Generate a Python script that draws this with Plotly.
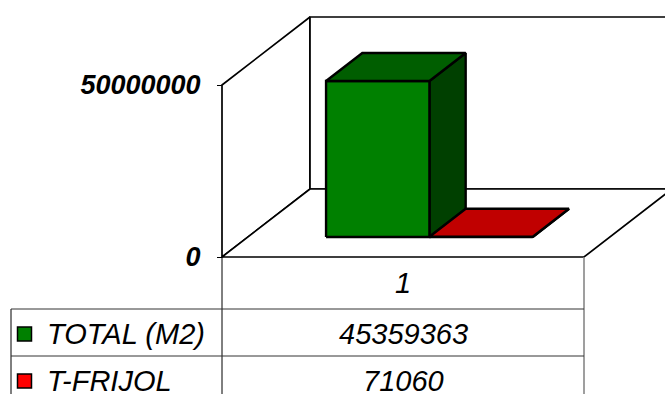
import plotly.graph_objects as go

# ---- data -------------------------------------------------------------
categories = ["1"]
series_names = ["TOTAL (M2)", "T-FRIJOL"]
series_values = [[45359363], [71060]]
y_tick_values = [0, 50000000]
y_tick_labels = ["0", "50000000"]

# ---- styling ----------------------------------------------------------
FRONT_COLORS = ["#008000", "#FF0000"]
TOP_COLORS = ["#005E00", "#C00000"]
SIDE_COLORS = ["#004000", "#800000"]
FONT = "Liberation Sans, Arial, sans-serif"

W, H = 665, 394
FLOOR_LEFT_PX, FLOOR_RIGHT_PX = 222, 584   # front edge of the floor
ZERO_PX, TOP_PX = 257, 85                  # value axis: 0 and maximum
DEPTH_PX = (88, 68)                        # oblique depth offset (right, up)
Y_MAX = y_tick_values[-1]

# axis scales: x in category units, y in value units
ux = 1.0 / (FLOOR_RIGHT_PX - FLOOR_LEFT_PX) * len(categories)
uy = Y_MAX / (ZERO_PX - TOP_PX)
x_range = [-FLOOR_LEFT_PX * ux, (W - FLOOR_LEFT_PX) * ux]
y_range = [-(H - ZERO_PX) * uy, ZERO_PX * uy]
DX, DY = DEPTH_PX[0] * ux, DEPTH_PX[1] * uy

GROUP_START = 0.216   # offset of first bar inside a category slot
BAR_W = 0.2855        # bar width in category units
D0, D1 = 0.294, 0.706  # bar depth span (fraction of the floor depth)


def proj(x, y, d):
    return x + d * DX, y + d * DY


def poly(points):
    xs = [p[0] for p in points] + [points[0][0]]
    ys = [p[1] for p in points] + [points[0][1]]
    return xs, ys


fig = go.Figure()

# ---- walls and floor --------------------------------------------------
n = len(categories)
wall_lines = [
    [proj(0, 0, 0), proj(0, 0, 1), proj(0, Y_MAX, 1), proj(0, Y_MAX, 0)],   # left wall
    [proj(0, 0, 1), proj(n, 0, 1), proj(n, Y_MAX, 1), proj(0, Y_MAX, 1)],   # back wall
    [proj(0, 0, 0), proj(n, 0, 0), proj(n, 0, 1), proj(0, 0, 1)],           # floor
]
for pts in wall_lines:
    xs, ys = poly(pts)
    fig.add_trace(go.Scatter(x=xs, y=ys, mode="lines", fill="toself",
                             fillcolor="white",
                             line=dict(color="black", width=1.7),
                             hoverinfo="skip", showlegend=False))

# ---- 3D bars ------------------------------------------------------------
for ci, _ in enumerate(categories):
    for si, vals in enumerate(series_values):
        v = vals[ci]
        x0 = ci + GROUP_START + si * BAR_W
        x1 = x0 + BAR_W
        faces = [
            ([proj(x1, 0, D0), proj(x1, 0, D1), proj(x1, v, D1), proj(x1, v, D0)], SIDE_COLORS[si]),
            ([proj(x0, 0, D0), proj(x1, 0, D0), proj(x1, v, D0), proj(x0, v, D0)], FRONT_COLORS[si]),
            ([proj(x0, v, D0), proj(x1, v, D0), proj(x1, v, D1), proj(x0, v, D1)], TOP_COLORS[si]),
        ]
        for pts, col in faces:
            xs, ys = poly(pts)
            fig.add_trace(go.Scatter(x=xs, y=ys, mode="lines", fill="toself",
                                     fillcolor=col,
                                     line=dict(color="black", width=2.4),
                                     name=series_names[si],
                                     hoverinfo="skip", showlegend=False))

# ---- data table -----------------------------------------------------------
def py(px):
    return 1 - px / H


ROW_LINES_PX = [ZERO_PX, 309, 356]
ROW_H = ROW_LINES_PX[2] - ROW_LINES_PX[1]
TABLE_LEFT_PX = 11
shapes = []
# column separators
shapes.append(dict(type="line", xref="x", yref="paper", x0=0, x1=0,
                   y0=py(ZERO_PX), y1=0, line=dict(color="black", width=1)))
shapes.append(dict(type="line", xref="x", yref="paper", x0=n, x1=n,
                   y0=py(ZERO_PX), y1=0, line=dict(color="#7f7f7f", width=1.5)))
shapes.append(dict(type="line", xref="paper", yref="paper",
                   x0=TABLE_LEFT_PX / W, x1=TABLE_LEFT_PX / W,
                   y0=py(ROW_LINES_PX[1]), y1=0, line=dict(color="black", width=1)))
for rp in ROW_LINES_PX[1:]:
    shapes.append(dict(type="line", xref="paper", yref="paper",
                       x0=TABLE_LEFT_PX / W, x1=FLOOR_RIGHT_PX / W,
                       y0=py(rp), y1=py(rp), line=dict(color="#333333", width=1)))

table_font = dict(family=FONT, size=29, color="black", style="italic")
annotations = []
# category header row
for ci, cat in enumerate(categories):
    annotations.append(dict(x=ci + 0.5, y=py((ROW_LINES_PX[0] + ROW_LINES_PX[1]) / 2),
                            xref="x", yref="paper", text=cat, showarrow=False,
                            font=table_font, xanchor="center", yanchor="middle"))
# one row per series
for si, name in enumerate(series_names):
    top = ROW_LINES_PX[1] + si * ROW_H
    cy = top + ROW_H / 2 + 1.5
    shapes.append(dict(type="rect", xref="paper", yref="paper",
                       x0=17.5 / W, x1=31.5 / W, y0=py(cy - 7), y1=py(cy + 7),
                       fillcolor=FRONT_COLORS[si], line=dict(color="black", width=1.5)))
    annotations.append(dict(x=45 / W, y=py(cy), xref="paper", yref="paper",
                            text=name, showarrow=False, font=table_font,
                            xanchor="left", yanchor="middle"))
    for ci in range(n):
        annotations.append(dict(x=ci + 0.5, y=py(cy), xref="x", yref="paper",
                                text=str(series_values[si][ci]), showarrow=False,
                                font=table_font, xanchor="center", yanchor="middle"))

fig.update_layout(
    width=W, height=H,
    margin=dict(l=0, r=0, t=0, b=0),
    paper_bgcolor="white", plot_bgcolor="white",
    xaxis=dict(range=x_range, visible=False, domain=[0, 1], fixedrange=True),
    yaxis=dict(range=y_range, domain=[0, 1], anchor="free",
               position=FLOOR_LEFT_PX / W, side="left",
               tickvals=y_tick_values, ticktext=y_tick_labels,
               ticks="outside", ticklen=5, tickwidth=1, tickcolor="black",
               ticklabelstandoff=11,
               tickfont=dict(family=FONT, size=27, color="black",
                             style="italic", weight="bold"),
               showline=False, showgrid=False, zeroline=False, fixedrange=True),
    shapes=shapes,
    annotations=annotations,
    showlegend=False,
)

fig.write_html("out.html")
